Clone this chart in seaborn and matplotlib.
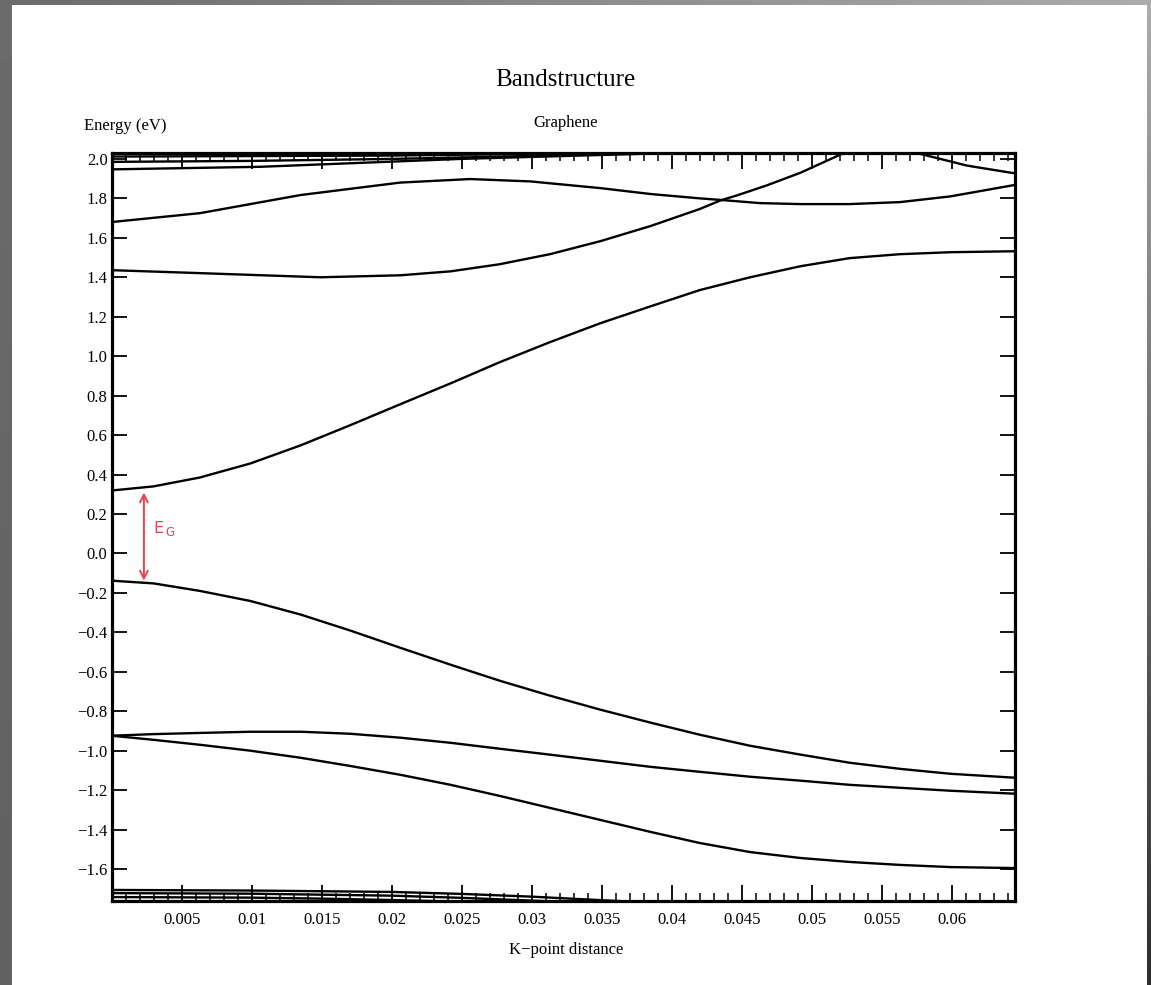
import numpy as np
import matplotlib
matplotlib.use("Agg")
import matplotlib.pyplot as plt
from matplotlib.patches import Rectangle
from matplotlib.ticker import MultipleLocator, FixedLocator
import seaborn as sns

# ---------------- data ----------------
k_main = [0.0, 0.0030, 0.0063, 0.0099, 0.0135, 0.0170, 0.0206, 0.0242, 0.0277, 0.0313,
          0.0349, 0.0385, 0.0420, 0.0456, 0.0492, 0.0527, 0.0563, 0.0599, 0.0645]
cond1 = [0.319, 0.340, 0.385, 0.456, 0.548, 0.649, 0.756, 0.862, 0.969, 1.071,
         1.167, 1.253, 1.335, 1.400, 1.456, 1.497, 1.517, 1.527, 1.532]
val1 = [-0.138, -0.152, -0.190, -0.241, -0.310, -0.390, -0.478, -0.564, -0.645, -0.721,
        -0.792, -0.858, -0.919, -0.975, -1.020, -1.061, -1.092, -1.117, -1.137]
val2 = [-0.924, -0.916, -0.910, -0.904, -0.904, -0.914, -0.934, -0.960, -0.990, -1.020,
        -1.051, -1.082, -1.107, -1.132, -1.152, -1.173, -1.188, -1.203, -1.218]
val3 = [-0.924, -0.945, -0.970, -1.000, -1.036, -1.077, -1.122, -1.173, -1.229, -1.290,
        -1.351, -1.412, -1.468, -1.514, -1.544, -1.564, -1.579, -1.590, -1.595]

k_cond2 = [0.0, 0.0063, 0.0149, 0.0206, 0.0242, 0.0277, 0.0313, 0.0349, 0.0385,
           0.0420, 0.0435, 0.0447, 0.0468, 0.0492, 0.0523, 0.0542, 0.0560, 0.0575,
           0.0611, 0.0644]
cond2 = [1.436, 1.421, 1.400, 1.410, 1.430, 1.466, 1.517, 1.583, 1.660,
         1.746, 1.790, 1.816, 1.866, 1.930, 2.030, 2.065, 2.065, 2.030,
         1.966, 1.928]

k_cond3 = [0.0, 0.0063, 0.0135, 0.0206, 0.0256, 0.0299, 0.0349, 0.0385, 0.0420,
           0.0435, 0.0463, 0.0492, 0.0527, 0.0563, 0.0599, 0.0645]
cond3 = [1.680, 1.725, 1.817, 1.880, 1.898, 1.886, 1.852, 1.822, 1.800,
         1.792, 1.776, 1.771, 1.771, 1.781, 1.810, 1.868]

k_top1 = [0.0, 0.02, 0.035, 0.0645]
top1 = [2.012, 2.017, 2.030, 2.050]
k_top2 = [0.0, 0.01, 0.02, 0.03, 0.04, 0.0645]
top2 = [1.985, 1.990, 2.000, 2.015, 2.032, 2.060]
k_top3 = [0.0, 0.0106, 0.0249, 0.035, 0.045]
top3 = [1.947, 1.960, 2.000, 2.020, 2.040]

k_bot1 = [0.0, 0.01, 0.02, 0.025, 0.03, 0.035, 0.04]
bot1 = [-1.706, -1.709, -1.716, -1.726, -1.740, -1.758, -1.775]
k_bot2 = [0.0, 0.01, 0.02, 0.025, 0.03, 0.035]
bot2 = [-1.722, -1.725, -1.735, -1.746, -1.760, -1.775]
k_bot3 = [0.0, 0.01, 0.015, 0.02, 0.025, 0.03]
bot3 = [-1.742, -1.745, -1.750, -1.757, -1.766, -1.780]

xtick_vals = [0.005, 0.01, 0.015, 0.02, 0.025, 0.03, 0.035, 0.04, 0.045, 0.05, 0.055, 0.06]
xtick_labels = ["0.005", "0.01", "0.015", "0.02", "0.025", "0.03", "0.035",
                "0.04", "0.045", "0.05", "0.055", "0.06"]
ytick_vals = [2.0, 1.8, 1.6, 1.4, 1.2, 1.0, 0.8, 0.6, 0.4, 0.2, 0.0,
              -0.2, -0.4, -0.6, -0.8, -1.0, -1.2, -1.4, -1.6]
ytick_labels = ["2.0", "1.8", "1.6", "1.4", "1.2", "1.0", "0.8", "0.6", "0.4", "0.2", "0.0",
                "\u22120.2", "\u22120.4", "\u22120.6", "\u22120.8", "\u22121.0", "\u22121.2",
                "\u22121.4", "\u22121.6"]
gap_top = 0.309
gap_bottom = -0.138
gap_k = 0.0023

# ---------------- style ----------------
sns.set_theme(style="ticks")
plt.rcParams["font.family"] = ["Liberation Serif", "DejaVu Serif"]

W, H = 1151, 985
fig = plt.figure(figsize=(W / 100, H / 100), dpi=100)

# screenshot frame background
bg = fig.add_axes([0, 0, 1, 1], zorder=-10)
xx, yy = np.meshgrid(np.linspace(0, 1, 64), np.linspace(0, 1, 64))
tl, tr, bl, br = 0.42, 0.67, 0.38, 0.18
grad = (tl * (1 - xx) * (1 - yy) + tr * xx * (1 - yy) + bl * (1 - xx) * yy + br * xx * yy)
bg.imshow(grad, cmap="gray", vmin=0, vmax=1, extent=[0, 1, 0, 1], aspect="auto", origin="upper")
bg.add_patch(Rectangle((12 / W, 0), (1147 - 12) / W, (985 - 5) / H, color="white", lw=0))
bg.set_xlim(0, 1)
bg.set_ylim(0, 1)
bg.axis("off")

left, right, top, bottom = 111.7, 1015, 153, 901
ax = fig.add_axes([left / W, 1 - bottom / H, (right - left) / W, (bottom - top) / H])
ax.set_facecolor("white")

lw = 1.7
for kk, ee in [(k_main, cond1), (k_main, val1), (k_main, val2), (k_main, val3),
               (k_cond2, cond2), (k_cond3, cond3),
               (k_top1, top1), (k_top2, top2), (k_top3, top3),
               (k_bot1, bot1), (k_bot2, bot2), (k_bot3, bot3)]:
    sns.lineplot(x=kk, y=ee, ax=ax, color="black", linewidth=lw, estimator=None, sort=True)

ax.set_xlim(0, 0.06452)
ax.set_ylim(-1.762, 2.03)

ax.xaxis.set_major_locator(FixedLocator(xtick_vals))
ax.set_xticklabels(xtick_labels)
ax.xaxis.set_minor_locator(MultipleLocator(0.001))
ax.yaxis.set_major_locator(FixedLocator(ytick_vals))
ax.set_yticklabels(ytick_labels)

ax.tick_params(axis="x", which="major", direction="in", length=11.5, width=1.3,
               top=True, bottom=True, pad=8, labelsize=12, colors="black")
ax.tick_params(axis="x", which="minor", direction="in", length=5.8, width=1.3,
               top=True, bottom=True)
ax.tick_params(axis="y", which="major", direction="in", length=10.5, width=1.3,
               left=True, right=True, pad=3, labelsize=12, colors="black")
for sp in ax.spines.values():
    sp.set_linewidth(2.3)
    sp.set_color("black")
    sp.set_visible(True)
ax.set_xlabel("")
ax.set_ylabel("")
ax.grid(False)

# band-gap marker
red = "#e8424f"
ax.annotate("", xy=(gap_k, gap_top), xytext=(gap_k, gap_bottom),
            arrowprops=dict(arrowstyle="<->", color=red, lw=1.4, mutation_scale=14,
                            shrinkA=0, shrinkB=0))
ax.text(0.00295, 0.128, "E", color=red, fontsize=11.5, va="center", ha="left",
        family=["DejaVu Sans"])
ax.text(0.00385, 0.108, "G", color=red, fontsize=8.5, va="center", ha="left",
        family=["DejaVu Sans"])

# texts
fig.text(565 / W, 1 - 80 / H, "Bandstructure", ha="center", va="center", fontsize=18, color="black")
fig.text(566 / W, 1 - 123 / H, "Graphene", ha="center", va="center", fontsize=12, color="black")
fig.text(84 / W, 1 - 126 / H, "Energy (eV)", ha="left", va="center", fontsize=12, color="black")
fig.text(566 / W, 1 - 950 / H, "K\u2212point distance", ha="center", va="center", fontsize=12, color="black")

fig.savefig("out.png", dpi=100)
